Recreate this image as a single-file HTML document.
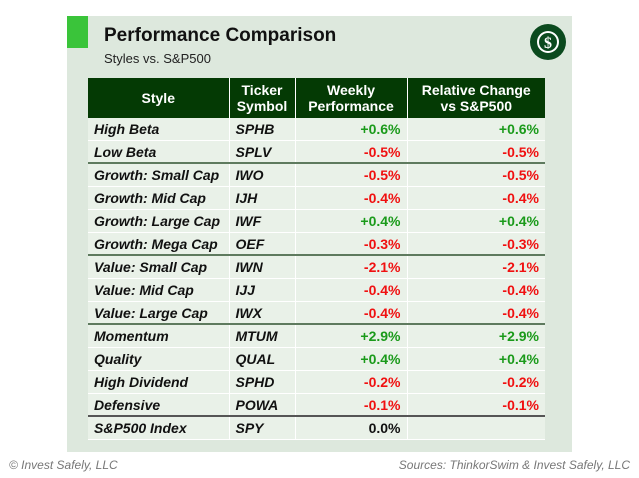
<!DOCTYPE html>
<html><head><style>
body{margin:0;width:639px;height:478px;background:#fff;position:relative;font-family:"Liberation Sans",Arial,sans-serif;overflow:hidden}
.panel{position:absolute;left:67px;top:16px;width:505px;height:436px;background:#dde8dd}
.sq{position:absolute;left:67px;top:16px;width:21px;height:32px;background:#3ac43a}
.t1{position:absolute;left:104px;top:25px;font-size:19px;font-weight:bold;color:#111}
.t2{position:absolute;left:104px;top:51px;font-size:13px;color:#222}
table{position:absolute;left:88px;top:78px;width:457px;border-collapse:collapse;table-layout:fixed}
th{background:#043a04;color:#fff;font-size:14px;font-weight:bold;height:40px;padding:0;border-left:1px solid #fff;line-height:16px}
th:first-child{border-left:none}
td{background:#e9f1e8;height:22px;padding:0 6px;font-size:14px;font-weight:bold;border-left:1px solid #fff;border-bottom:1px solid #fff}
td:first-child{border-left:none}
.s td{font-style:italic;color:#111}
.s td.n{text-align:right;font-style:normal;font-weight:bold}
.s td.g{color:#1a9a1a}.s td.r{color:#f01010}
tr.sep td{border-bottom:2px solid #5e7a5e;height:21px}
tr.sepd td{border-bottom:2px solid #555;height:21px}
.f{position:absolute;top:458px;font-size:12px;font-style:italic;color:#777}
</style></head><body>
<div class="panel"></div><div class="sq"></div>
<div class="t1">Performance Comparison</div>
<div class="t2">Styles vs. S&amp;P500</div>
<svg style="position:absolute;left:529px;top:23px" width="38" height="38" viewBox="0 0 38 38"><circle cx="19" cy="19" r="18" fill="#0b4a1e"/><circle cx="19" cy="19" r="11" fill="#fff"/><circle cx="19" cy="19" r="9" fill="#0b4a1e"/><text x="19" y="25" text-anchor="middle" font-size="16" font-weight="bold" fill="#fff" font-family="Liberation Serif">$</text></svg>
<table>
<colgroup><col style="width:141px"><col style="width:66px"><col style="width:112px"><col style="width:138px"></colgroup>
<tr><th>Style</th><th>Ticker<br>Symbol</th><th>Weekly<br>Performance</th><th>Relative Change<br>vs S&amp;P500</th></tr>
<tr class="s"><td>High Beta</td><td>SPHB</td><td class="n g">+0.6%</td><td class="n g">+0.6%</td></tr>
<tr class="s sep"><td>Low Beta</td><td>SPLV</td><td class="n r">-0.5%</td><td class="n r">-0.5%</td></tr>
<tr class="s"><td>Growth: Small Cap</td><td>IWO</td><td class="n r">-0.5%</td><td class="n r">-0.5%</td></tr>
<tr class="s"><td>Growth: Mid Cap</td><td>IJH</td><td class="n r">-0.4%</td><td class="n r">-0.4%</td></tr>
<tr class="s"><td>Growth: Large Cap</td><td>IWF</td><td class="n g">+0.4%</td><td class="n g">+0.4%</td></tr>
<tr class="s sep"><td>Growth: Mega Cap</td><td>OEF</td><td class="n r">-0.3%</td><td class="n r">-0.3%</td></tr>
<tr class="s"><td>Value: Small Cap</td><td>IWN</td><td class="n r">-2.1%</td><td class="n r">-2.1%</td></tr>
<tr class="s"><td>Value: Mid Cap</td><td>IJJ</td><td class="n r">-0.4%</td><td class="n r">-0.4%</td></tr>
<tr class="s sep"><td>Value: Large Cap</td><td>IWX</td><td class="n r">-0.4%</td><td class="n r">-0.4%</td></tr>
<tr class="s"><td>Momentum</td><td>MTUM</td><td class="n g">+2.9%</td><td class="n g">+2.9%</td></tr>
<tr class="s"><td>Quality</td><td>QUAL</td><td class="n g">+0.4%</td><td class="n g">+0.4%</td></tr>
<tr class="s"><td>High Dividend</td><td>SPHD</td><td class="n r">-0.2%</td><td class="n r">-0.2%</td></tr>
<tr class="s sepd"><td>Defensive</td><td>POWA</td><td class="n r">-0.1%</td><td class="n r">-0.1%</td></tr>
<tr class="s"><td>S&amp;P500 Index</td><td>SPY</td><td class="n">0.0%</td><td></td></tr>
</table>
<div class="f" style="left:9px">© Invest Safely, LLC</div>
<div class="f" style="right:9px">Sources: ThinkorSwim &amp; Invest Safely, LLC</div>
</body></html>
